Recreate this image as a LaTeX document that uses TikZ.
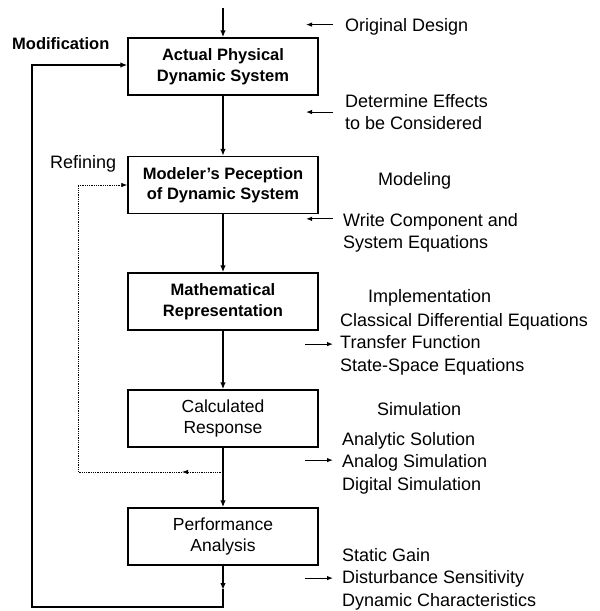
\documentclass[tikz,border=0pt]{standalone}
\usepackage{fontspec}
\setmainfont{Liberation Sans}
\usetikzlibrary{arrows.meta}

\tikzset{
  stage/.style={draw, line width=1.4pt, minimum width=190pt, minimum height=57pt,
    inner sep=0pt, align=center, font=\fontsize{17.5}{20.5}\selectfont},
  heavy/.style={font=\fontsize{16.5}{20.5}\selectfont\bfseries},
  note/.style={anchor=north west, inner sep=0pt, align=left,
    font=\fontsize{18}{22.5}\selectfont},
  flow/.style={line width=1.8pt, -{Latex[length=7pt,width=5.5pt]}},
  plainflow/.style={line width=1.8pt, line cap=rect},
  refine/.style={line width=0.8pt, densely dotted},
  tip/.style={line width=1pt, -{Latex[length=6pt,width=4.5pt]}},
}

\begin{document}
\begin{tikzpicture}[x=1pt, y=-1pt]
		%%%%% FRAME %%%%%
		\useasboundingbox (0,0) rectangle (600,611);
		
		%%%%% BOXES %%%%%
		\node[stage, heavy] (phys) at (223,66.5) {Actual Physical\\Dynamic System};
		\node[stage, heavy] (percep) at (223,185) {Modeler's Peception\\of Dynamic System};
		\node[stage, heavy] (math) at (223,301.5) {Mathematical\\Representation};
		\node[stage] (resp) at (223,418.5) {Calculated\\Response};
		\node[stage] (perf) at (223,536.5) {Performance\\Analysis};
		
		%%%%% MAIN FLOW %%%%%
		\coordinate (start) at (223,8);
		\draw[flow] (start) -- (phys);
		\draw[flow] (phys) -- (percep);
		\draw[flow] (percep) -- (math);
		\draw[flow] (math) -- (resp);
		\draw[flow] (resp) -- (perf);
		
		%%%%% MODIFICATION LOOP %%%%%
		\coordinate (outmid) at (223,590);
		\coordinate (outend) at (223,607);
		\coordinate (loopbl) at (32,607);
		\coordinate (looptl) at (32,65);
		\draw[flow] (perf) -- (outmid);
		\draw[plainflow] (outmid) -- (outend) -- (loopbl) -- (looptl);
		\draw[flow] (looptl) -- (looptl -| phys.west);
		\node[note, heavy] (modif) at (12,37) {Modification};
		
		%%%%% REFINING LOOP %%%%%
		\coordinate (rjoin) at (223,472);
		\coordinate (rmid) at (182,472);
		\coordinate (rbl) at (78,472);
		\coordinate (rtl) at (78,185);
		\draw[refine, -{Latex[length=6pt,width=4.5pt]}] (rjoin) -- (rmid);
		\draw[refine] (rmid) -- (rbl) -- (rtl);
		\draw[refine, -{Latex[length=6pt,width=4.5pt]}] (rtl) -- (percep.west);
		\node[note] (refin) at (50,155) {Refining};
		
		%%%%% SIDE NOTES %%%%%
		\node[note] (orig) at (345,18) {Original Design};
		\node[note] (effects) at (345,94) {Determine Effects\\\hphantom{}to be Considered};
		\node[note] (modeling) at (378,172) {Modeling};
		\node[note] (equat) at (343,213) {Write Component and\\System Equations};
		\node[note] (impl) at (368,289) {Implementation};
		\node[note] (forms) at (340,313) {Classical Differential Equations\\Transfer Function\\State-Space Equations};
		\node[note] (simul) at (377,402) {Simulation};
		\node[note] (solve) at (342,432) {Analytic Solution\\Analog Simulation\\Digital Simulation};
		\node[note] (perfnote) at (342,548) {Static Gain\\Disturbance Sensitivity\\Dynamic Characteristics};
		
		\draw[tip] ([xshift=-12pt,yshift=2pt]orig.west) -- ++(-27,0);
		\draw[tip] ([xshift=-12pt]effects.west) -- ++(-27,0);
		\draw[tip] ([xshift=-10pt,yshift=14pt]equat.west) -- ++(-27,0);
		\draw[tip] ([xshift=-35pt]forms.west) -- ++(28,0);
		\draw[tip] ([xshift=-37pt,yshift=3pt]solve.west) -- ++(28,0);
		\draw[tip] ([xshift=-37pt,yshift=1pt]perfnote.west) -- ++(28,0);
		
		%%%%% END %%%%%
	\end{tikzpicture}
\end{document}
